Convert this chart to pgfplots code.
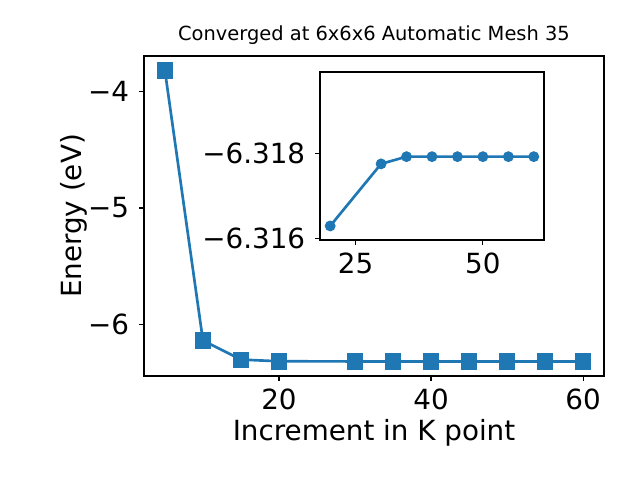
\documentclass[border=0pt]{standalone}
\usepackage{pgfplots}
\pgfplotsset{compat=1.18}
\usepackage{fontspec}
\setmainfont{DejaVu Sans}
\definecolor{mplblue}{RGB}{31,119,180}
\begin{document}
\begin{tikzpicture}
\useasboundingbox (0,0) rectangle (480pt,360pt);
\begin{axis}[
  at={(108pt,78pt)}, anchor=south west,
  scale only axis, width=345pt, height=240pt,
  xmin=2.25, xmax=62.75, ymin=-6.44287, ymax=-3.69405,
  axis line style={line width=0.83pt},
  tick align=outside, major tick length=3.65pt,
  every tick/.style={black, line width=0.83pt},
  tick pos=left,
  xtick={20,40,60}, xticklabels={20,40,60},
  ytick={-6,-5,-4}, yticklabels={−6,−5,−4},
  ticklabel style={font=\fontsize{20.83}{25}\selectfont},
  xticklabel style={anchor=base, yshift=-21.75pt},
  yticklabel style={anchor=east, inner sep=0pt, xshift=-7.3pt},
  title={Converged at 6x6x6 Automatic Mesh 35},
  title style={at={(axis description cs:0.5,1.0234)}, anchor=base, inner sep=0pt, font=\fontsize{14.58}{17}\selectfont},
  xlabel={Increment in K point},
  xlabel style={at={(axis description cs:0.5,-0.2031)}, anchor=base, inner sep=0pt, font=\fontsize{20.83}{25}\selectfont},
  ylabel={Energy (eV)},
  ylabel style={at={(axis description cs:-0.1359,0.5)}, anchor=base, inner sep=0pt, font=\fontsize{20.83}{25}\selectfont},
]
\addplot[color=mplblue, line width=2pt, mark=square*, mark size=5.8pt, mark options={fill=mplblue, draw=mplblue, line width=0.5pt}]
coordinates {
(5,-3.819) (10,-6.138) (15,-6.302) (20,-6.31629) (30,-6.31775) (35,-6.31792)
(40,-6.31792) (45,-6.31792) (50,-6.31792) (55,-6.31792) (60,-6.31792)
};
\end{axis}
\begin{axis}[
  at={(240pt,180pt)}, anchor=south west,
  scale only axis, width=168pt, height=126pt,
  axis background/.style={fill=white},
  xmin=18, xmax=62, ymin=-6.31991, ymax=-6.31596,
  y dir=reverse,
  axis line style={line width=0.83pt},
  tick align=outside, major tick length=3.65pt,
  every tick/.style={black, line width=0.83pt},
  tick pos=left,
  xtick={25,50}, xticklabels={25,50},
  ytick={-6.318,-6.316}, yticklabels={−6.318,−6.316},
  ticklabel style={font=\fontsize{20.83}{25}\selectfont},
  xticklabel style={anchor=base, yshift=-21.75pt},
  yticklabel style={anchor=east, inner sep=0pt, xshift=-7.3pt},
]
\addplot[color=mplblue, line width=2pt, mark=*, mark size=3pt, mark options={fill=mplblue, draw=mplblue}]
coordinates {
(20,-6.31629) (30,-6.31775) (35,-6.31792) (40,-6.31792) (45,-6.31792)
(50,-6.31792) (55,-6.31792) (60,-6.31792)
};
\end{axis}
\end{tikzpicture}
\end{document}
